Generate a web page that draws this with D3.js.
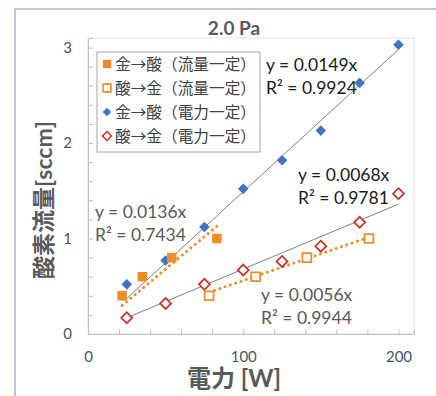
<!DOCTYPE html>
<html>
<head>
<meta charset="utf-8">
<script src="https://cdn.jsdelivr.net/npm/d3@7"></script>
<style>
  body { margin: 0; background: #fff; }
  svg { font-family: Lato, "Noto Sans CJK JP", sans-serif; }
</style>
</head>
<body>
<div id="chart"></div>
<script>
// data
const powerSteps = [25, 50, 75, 100, 125, 150, 175, 200];
const auToSanPower = [0.52, 0.77, 1.12, 1.52, 1.82, 2.13, 2.63, 3.03];
const sanToAuPower = [0.17, 0.32, 0.52, 0.67, 0.76, 0.92, 1.17, 1.47];
const auToSanFlowX = [22, 35, 54, 83];
const sanToAuFlowX = [78, 108, 141, 181];
const flowValues = [0.4, 0.6, 0.8, 1.0];
const legendLabels = ["金→酸（流量一定）", "酸→金（流量一定）", "金→酸（電力一定）", "酸→金（電力一定）"];
const slopes = [0.0136, 0.0056, 0.0149, 0.0068];
const rSquared = ["0.7434", "0.9944", "0.9924", "0.9781"];
const xTicks = [0, 100, 200];
const yTicks = [0, 1, 2, 3];

const W = 436, H = 396;
const margin = { top: 38, right: 22, bottom: 62, left: 88 };
const width = W - margin.left - margin.right,
  height = H - margin.top - margin.bottom;

const svg = d3.select("#chart").append("svg")
  .attr("width", W).attr("height", H);

// outer frame (runs off the right and bottom edge)
svg.append("rect")
  .attr("x", 15).attr("y", 9).attr("width", 440).attr("height", 400)
  .attr("fill", "none").attr("stroke", "#9fb4cf").attr("stroke-width", 1.5);

const x = d3.scaleLinear().domain([0, 210]).range([0, width]);
const y = d3.scaleLinear().domain([0, 3.1]).range([height, 0]);

const g = svg.append("g")
  .attr("transform", "translate(" + margin.left + "," + margin.top + ")");

// plot area border
g.append("rect")
  .attr("width", width).attr("height", height)
  .attr("fill", "none").attr("stroke", "#e3e3e3");

// axes with minor ticks pointing inward
g.append("g")
  .attr("transform", `translate(0,${height})`)
  .call(d3.axisTop(x).tickValues(d3.range(0, 201, 20)).tickSize(5).tickFormat(""))
  .call(a => a.select(".domain").attr("stroke", "#bfbfbf"))
  .selectAll("line").attr("stroke", "#bfbfbf");
g.append("g")
  .call(d3.axisRight(y).tickValues(d3.range(0, 3.01, 0.2)).tickSize(5).tickFormat(""))
  .call(a => a.select(".domain").attr("stroke", "#bfbfbf"))
  .selectAll("line").attr("stroke", "#bfbfbf");

// tick labels
g.append("g")
  .attr("transform", `translate(0,${height})`)
  .call(d3.axisBottom(x).tickValues(xTicks).tickSize(0).tickPadding(17))
  .call(a => a.select(".domain").remove())
  .selectAll("text")
  .attr("fill", "#44546a").style("font-size", "15px").style("font-family", "Lato");
g.append("g")
  .call(d3.axisLeft(y).tickValues(yTicks).tickFormat(d3.format("d")).tickSize(0).tickPadding(16))
  .call(a => a.select(".domain").remove())
  .selectAll("text")
  .attr("fill", "#44546a").style("font-size", "15px").style("font-family", "Lato");

// titles
svg.append("text")
  .attr("x", 234).attr("y", 35).attr("text-anchor", "middle")
  .attr("fill", "#595959").style("font-size", "19px").style("font-weight", "bold")
  .text("2.0 Pa");
svg.append("text")
  .attr("x", 234).attr("y", 387).attr("text-anchor", "middle")
  .attr("fill", "#595959").style("font-size", "24px").style("font-weight", "bold")
  .text("電力 [W]");
svg.append("text")
  .attr("transform", "translate(52,200) rotate(-90)")
  .attr("text-anchor", "middle")
  .attr("fill", "#595959").style("font-size", "23px").style("font-weight", "bold")
  .text("酸素流量[sccm]");

const orange = "#f28c28", blue = "#4472c4", red = "#c0392b";

// trendlines (through origin, drawn over each series' x range)
const trends = [
  { xs: auToSanFlowX, k: slopes[0], color: orange, dotted: true },
  { xs: sanToAuFlowX, k: slopes[1], color: orange, dotted: true },
  { xs: powerSteps, k: slopes[2], color: "#808080", dotted: false },
  { xs: powerSteps, k: slopes[3], color: "#808080", dotted: false }
];
trends.forEach(t => {
  const x0 = d3.min(t.xs), x1 = d3.max(t.xs);
  g.append("line")
    .attr("x1", x(x0)).attr("y1", y(t.k * x0))
    .attr("x2", x(x1)).attr("y2", y(t.k * x1))
    .attr("stroke", t.color)
    .attr("stroke-width", t.dotted ? 3 : 1)
    .attr("stroke-linecap", t.dotted ? "round" : "butt")
    .attr("stroke-dasharray", t.dotted ? "0.1 5.5" : null);
});

const sym = (type, size) => d3.symbol().type(type).size(size)();
const diamond = {
  draw(ctx, size) {
    const r = Math.sqrt(size) / 2 * 1.15;
    ctx.moveTo(0, -r); ctx.lineTo(r, 0); ctx.lineTo(0, r); ctx.lineTo(-r, 0); ctx.closePath();
  }
};

function drawPoints(xs, ys, type, size, fill, stroke) {
  g.append("g").selectAll("path")
    .data(xs.map((d, i) => [d, ys[i]]))
    .enter().append("path")
    .attr("transform", d => `translate(${x(d[0])},${y(d[1])})`)
    .attr("d", sym(type, size))
    .attr("fill", fill)
    .attr("stroke", stroke)
    .attr("stroke-width", stroke === "none" ? 0 : 1.8);
}

drawPoints(powerSteps, sanToAuPower, diamond, 90, "#fff", red);
drawPoints(sanToAuFlowX, flowValues, d3.symbolSquare, 78, "#fff", orange);
drawPoints(powerSteps, auToSanPower, diamond, 85, blue, "none");
drawPoints(auToSanFlowX, flowValues, d3.symbolSquare, 90, orange, "none");

// equation labels
const eqPos = [
  { x: 95, y: 218, color: "#595959" },
  { x: 261, y: 301, color: "#595959" },
  { x: 266, y: 71, color: "#1a1a1a" },
  { x: 298, y: 181, color: "#1a1a1a" }
];
eqPos.forEach((p, i) => {
  const t = svg.append("text")
    .attr("x", p.x).attr("y", p.y)
    .attr("fill", p.color).style("font-size", "17.5px").style("font-family", "Lato");
  t.append("tspan").attr("x", p.x).text("y = " + slopes[i] + "x");
  t.append("tspan").attr("x", p.x).attr("dy", 23).text("R² = " + rSquared[i]);
});

// legend
const lg = svg.append("g").attr("transform", "translate(97,52)");
lg.append("rect")
  .attr("width", 163).attr("height", 100)
  .attr("fill", "#fff").attr("stroke", "#a6a6a6");
const legendMarks = [
  { type: d3.symbolSquare, size: 70, fill: orange, stroke: "none" },
  { type: d3.symbolSquare, size: 60, fill: "#fff", stroke: orange },
  { type: diamond, size: 55, fill: blue, stroke: "none" },
  { type: diamond, size: 60, fill: "#fff", stroke: red }
];
legendLabels.forEach((lab, i) => {
  const row = lg.append("g").attr("transform", `translate(0,${12 + i * 24})`);
  const m = legendMarks[i];
  row.append("path")
    .attr("transform", "translate(10,0)")
    .attr("d", sym(m.type, m.size))
    .attr("fill", m.fill).attr("stroke", m.stroke)
    .attr("stroke-width", m.stroke === "none" ? 0 : 1.6);
  row.append("text")
    .attr("x", 18).attr("y", 6)
    .attr("textLength", 141).attr("lengthAdjust", "spacingAndGlyphs")
    .attr("fill", "#404040").style("font-size", "15.5px")
    .style("font-family", "'Noto Sans CJK JP'")
    .text(lab);
});
</script>
</body>
</html>
